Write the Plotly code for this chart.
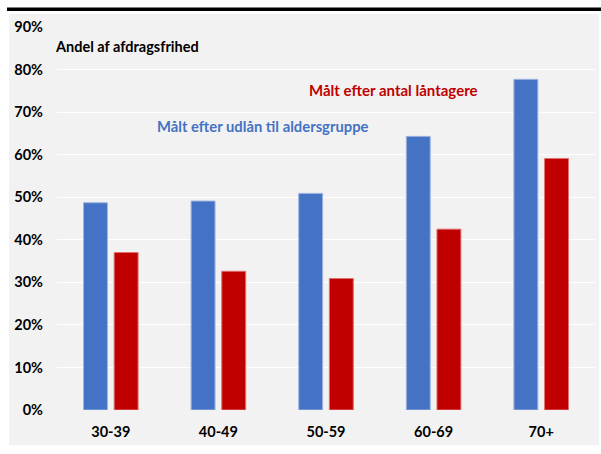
import plotly.graph_objects as go

categories = ["30-39", "40-49", "50-59", "60-69", "70+"]
udlaan = [0.487, 0.491, 0.509, 0.643, 0.777]
laantagere = [0.370, 0.326, 0.309, 0.425, 0.591]
y_ticks = [0, 0.1, 0.2, 0.3, 0.4, 0.5, 0.6, 0.7, 0.8, 0.9]
y_tick_labels = ["0%", "10%", "20%", "30%", "40%", "50%", "60%", "70%", "80%", "90%"]

BLUE = "#4472C4"
RED = "#C00000"
GRAY = "#F2F2F2"
FONT = "Lato"

W, H = 601, 454
L, R = 57, 595
TOP, BOT = 27.3, 409.8


def px(x):
    return (x - L) / (R - L)


def py(y):
    return (BOT - y) / (BOT - TOP)


fig = go.Figure()
fig.add_trace(go.Bar(x=categories, y=udlaan, name="Målt efter udlån til aldersgruppe",
                     marker=dict(color=BLUE, line=dict(color="#9DB3E0", width=1))))
fig.add_trace(go.Bar(x=categories, y=laantagere, name="Målt efter antal låntagere",
                     marker=dict(color=RED, line=dict(color="#E07070", width=1))))

fig.update_layout(
    width=W, height=H,
    margin=dict(l=L, r=W - R, t=TOP, b=H - BOT, pad=0),
    paper_bgcolor="white",
    plot_bgcolor=GRAY,
    showlegend=False,
    barmode="group",
    bargap=0.43,
    bargroupgap=0.22,
    font=dict(family=FONT, size=14.5, color="black"),
    xaxis=dict(showgrid=False, zeroline=False, showline=False, ticks="",
               tickfont=dict(family=FONT, size=14.5, color="black", weight="bold"),
               ticklabelstandoff=11),
    yaxis=dict(range=[0, 0.9], tickvals=y_ticks, ticktext=y_tick_labels,
               showgrid=True, gridcolor="white", gridwidth=1.3,
               zeroline=False, showline=False, ticks="",
               tickfont=dict(family=FONT, size=14.5, color="black", weight="bold"),
               ticklabelstandoff=13),
    shapes=[
        dict(type="rect", xref="paper", yref="paper", layer="below",
             x0=px(9), x1=px(599), y0=py(445), y1=py(14),
             fillcolor=GRAY, line=dict(width=0)),
        dict(type="line", xref="paper", yref="paper",
             x0=px(7), x1=px(601), y0=py(9.5), y1=py(9.5),
             line=dict(color="black", width=3.5)),
    ],
    annotations=[
        dict(text="Andel af afdragsfrihed", xref="paper", yref="paper",
             x=px(53), y=py(46.5), xanchor="left", yanchor="middle", showarrow=False,
             font=dict(family=FONT, size=14.5, color="black", weight="bold")),
        dict(text="Målt efter udlån til aldersgruppe", xref="paper", yref="paper",
             x=px(155), y=py(125.7), xanchor="left", yanchor="middle", showarrow=False,
             font=dict(family=FONT, size=14.8, color=BLUE, weight="bold")),
        dict(text="Målt efter antal låntagere", xref="paper", yref="paper",
             x=px(307), y=py(90.7), xanchor="left", yanchor="middle", showarrow=False,
             font=dict(family=FONT, size=15, color=RED, weight="bold")),
    ],
)

fig.write_html("out.html")
